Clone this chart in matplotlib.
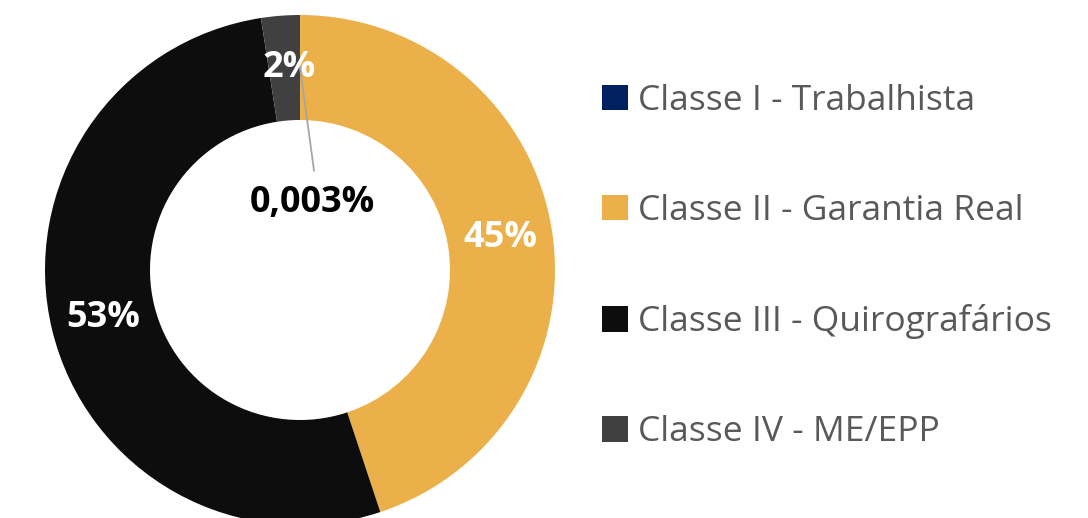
import matplotlib
matplotlib.use("Agg")
import matplotlib.pyplot as plt
import numpy as np
from matplotlib.patches import Patch

categories = ["Classe I - Trabalhista", "Classe II - Garantia Real",
              "Classe III - Quirografários", "Classe IV - ME/EPP"]
values = [0.003, 44.897, 52.65, 2.45]
colors = ["#002060", "#EBB04A", "#0D0D0D", "#404040"]
label_colors = ["black", "white", "white", "white"]

plt.rcParams['font.family'] = ['Open Sans', 'DejaVu Sans']

W, H = 1088, 518
fig = plt.figure(figsize=(W / 100, H / 100), dpi=100)
cx, cy, R = 300, H - 270, 255
ax = fig.add_axes([(cx - R) / W, (cy - R) / H, 2 * R / W, 2 * R / H])

wedges, _ = ax.pie(values, colors=colors, startangle=90, counterclock=False,
                   radius=1, wedgeprops=dict(width=105 / 255, linewidth=0))
ax.set_xlim(-1, 1)
ax.set_ylim(-1, 1)
ax.set_aspect('equal')
ax.axis('off')


def fmt(v):
    if v < 1:
        return f"{v:.3f}%".replace('.', ',')
    return f"{round(v):.0f}%"


rmid = 1 - (105 / 255) / 2
for w, v, lc in zip(wedges, values, label_colors):
    ang = np.deg2rad((w.theta1 + w.theta2) / 2)
    x, y = rmid * np.cos(ang), rmid * np.sin(ang)
    if v < 1:
        tx, ty = 0.05, 0.262
        ax.plot([x, 0.055], [y, 0.39], color="#A6A6A6", lw=1.3, zorder=3)
        ax.text(tx, ty, fmt(v), ha='center', va='center', color=lc,
                fontsize=26, fontweight='bold', zorder=5)
    else:
        if v < 5:
            x += 0.02
        ax.text(x, y, fmt(v), ha='center', va='center', color=lc,
                fontsize=26, fontweight='bold', zorder=5)

handles = [Patch(facecolor=c, edgecolor='none') for c in colors]
leg = fig.legend(handles, categories, loc='upper left',
                 bbox_to_anchor=(602 / W, 1 - 84 / H), frameon=False,
                 fontsize=25.5, handlelength=0.72, handleheight=0.72,
                 handletextpad=0.3, labelspacing=2.15, borderpad=0,
                 borderaxespad=0)
for t in leg.get_texts():
    t.set_color("#595959")

fig.savefig("out.png", dpi=100)
